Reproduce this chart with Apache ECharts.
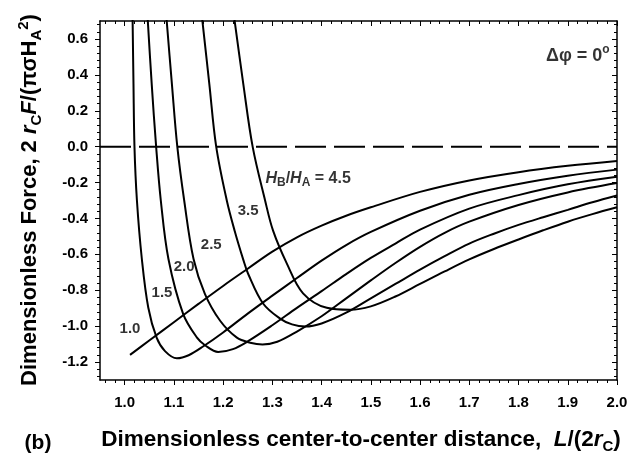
<!DOCTYPE html>
<html>
<head>
<meta charset="utf-8">
<script src="https://cdn.jsdelivr.net/npm/echarts@6/dist/echarts.min.js"></script>
<style>
  html, body { margin: 0; padding: 0; background: #fff; }
  #chart { width: 631px; height: 456px; }
</style>
</head>
<body>
<div id="chart"></div>
<script>
// axis ticks
const xTicks = [1.0, 1.1, 1.2, 1.3, 1.4, 1.5, 1.6, 1.7, 1.8, 1.9, 2.0];
const yTicks = [-1.2, -1.0, -0.8, -0.6, -0.4, -0.2, 0.0, 0.2, 0.4, 0.6];

// curves, H_B/H_A = 1.0 ... 4.5  ([L/(2rc), force])
const hb10 = [[1.011, -1.160], [1.05, -1.080], [1.10, -0.978], [1.15, -0.876], [1.20, -0.776], [1.25, -0.680],
  [1.30, -0.585], [1.35, -0.505], [1.40, -0.440], [1.45, -0.385], [1.50, -0.338], [1.60, -0.252],
  [1.70, -0.188], [1.80, -0.142], [1.90, -0.107], [2.00, -0.080]];
const hb15 = [[1.016, 0.75], [1.018, 0.35], [1.020, 0.0], [1.025, -0.300], [1.035, -0.626], [1.048, -0.896],
  [1.065, -1.064], [1.082, -1.139], [1.106, -1.179], [1.13, -1.162], [1.16, -1.112], [1.20, -1.035],
  [1.25, -0.930], [1.30, -0.830], [1.35, -0.732], [1.40, -0.635], [1.45, -0.548], [1.50, -0.475],
  [1.60, -0.357], [1.70, -0.268], [1.80, -0.208], [1.90, -0.162], [2.00, -0.128]];
const hb20 = [[1.046, 0.75], [1.055, 0.35], [1.064, 0.0], [1.0735, -0.300], [1.089, -0.626], [1.119, -0.933],
  [1.147, -1.064], [1.164, -1.108], [1.19, -1.144], [1.22, -1.128], [1.25, -1.085], [1.30, -0.995],
  [1.35, -0.898], [1.40, -0.805], [1.45, -0.710], [1.50, -0.620], [1.55, -0.540], [1.60, -0.462],
  [1.70, -0.345], [1.80, -0.270], [1.90, -0.210], [2.00, -0.168]];
const hb25 = [[1.084, 0.75], [1.096, 0.35], [1.107, 0.0], [1.121, -0.300], [1.140, -0.626], [1.163, -0.820],
  [1.194, -0.970], [1.228, -1.064], [1.255, -1.092], [1.28, -1.102], [1.31, -1.087], [1.35, -1.030],
  [1.40, -0.945], [1.45, -0.845], [1.50, -0.745], [1.55, -0.648], [1.60, -0.558], [1.65, -0.480],
  [1.70, -0.418], [1.80, -0.325], [1.90, -0.255], [2.00, -0.203]];
const hb35 = [[1.156, 0.75], [1.172, 0.35], [1.186, 0.0], [1.2075, -0.300], [1.2234, -0.468], [1.2416, -0.635],
  [1.2508, -0.708], [1.2812, -0.874], [1.3157, -0.958], [1.340, -0.990], [1.367, -1.002], [1.40, -0.985],
  [1.45, -0.925], [1.50, -0.845], [1.55, -0.765], [1.60, -0.685], [1.65, -0.610], [1.70, -0.540],
  [1.75, -0.485], [1.80, -0.436], [1.85, -0.393], [1.90, -0.352], [1.95, -0.310], [2.00, -0.272]];
const hb45 = [[1.221, 0.75], [1.241, 0.35], [1.260, 0.0], [1.2853, -0.300], [1.3015, -0.468], [1.3293, -0.650],
  [1.3624, -0.817], [1.4106, -0.898], [1.458, -0.909], [1.50, -0.890], [1.55, -0.835], [1.60, -0.765],
  [1.65, -0.695], [1.70, -0.628], [1.75, -0.570], [1.80, -0.517], [1.85, -0.466], [1.90, -0.418],
  [1.95, -0.376], [2.00, -0.338]];
const zeroLine = [[0.95, 0], [2.0, 0]];

// curve labels
const curveLabelText = ['1.0', '1.5', '2.0', '2.5', '3.5'];
const curveLabelX = [1.011, 1.076, 1.121, 1.176, 1.251];
const curveLabelY = [-1.015, -0.814, -0.669, -0.546, -0.359];

const FONT = 'Liberation Sans, Arial, sans-serif';
const chart = echarts.init(document.getElementById('chart'));

// minor ticks between the major ones
const xMinor = [];
for (let i = 48; i <= 99; i++) { if (i % 5 !== 0) xMinor.push(i / 50); }
const yMinor = [];
for (let i = -32; i <= 17; i++) { if (i % 5 !== 0) yMinor.push(i / 25); }

const fmt = (v) => (Math.abs(v) < 1e-9 ? 0 : v).toFixed(1);

function xAx(pos, ticks, len, inside, main) {
  return {
    type: 'value', min: 0.95, max: 2.0, position: pos,
    axisLine: { show: main, onZero: false, lineStyle: { color: '#000', width: 1.5 } },
    axisTick: { show: true, customValues: ticks, length: len, inside: inside, lineStyle: { color: '#000', width: 1 } },
    axisLabel: main && pos === 'bottom' ? {
      show: true, customValues: xTicks, formatter: fmt, margin: 15,
      color: '#000', fontSize: 15, fontWeight: 'bold', fontFamily: FONT
    } : { show: false },
    splitLine: { show: false }
  };
}
function yAx(pos, ticks, len, inside, main) {
  return {
    type: 'value', min: -1.3, max: 0.7, position: pos,
    axisLine: { show: main, onZero: false, lineStyle: { color: '#000', width: 1.5 } },
    axisTick: { show: true, customValues: ticks, length: len, inside: inside, lineStyle: { color: '#000', width: 1 } },
    axisLabel: main && pos === 'left' ? {
      show: true, customValues: yTicks, formatter: fmt, margin: 12,
      color: '#000', fontSize: 15, fontWeight: 'bold', fontFamily: FONT
    } : { show: false },
    splitLine: { show: false }
  };
}

function curve(name, data) {
  return {
    name: name, type: 'line', data: data, smooth: 0.35, showSymbol: false, clip: true,
    lineStyle: { color: '#000', width: 2 }, silent: true
  };
}

const labelData = curveLabelText.map((t, i) => ({ value: [curveLabelX[i], curveLabelY[i]], name: t }));

const option = {
  animation: false,
  backgroundColor: '#fff',
  grid: { left: 100, right: 14, top: 21, bottom: 76 },
  xAxis: [
    xAx('bottom', xTicks, 5, false, true),
    xAx('top', xTicks, 5, true, true),
    xAx('bottom', xMinor, 3, false, false),
    xAx('top', xMinor, 3, true, false)
  ],
  yAxis: [
    yAx('left', yTicks, 5, false, true),
    yAx('right', yTicks, 5, true, true),
    yAx('left', yMinor, 3, false, false),
    yAx('right', yMinor, 3, true, false)
  ],
  series: [
    {
      name: 'zero', type: 'line', data: zeroLine, showSymbol: false, silent: true,
      lineStyle: { color: '#000', width: 2, type: [31, 8], dashOffset: 0 }
    },
    curve('1.0', hb10), curve('1.5', hb15), curve('2.0', hb20),
    curve('2.5', hb25), curve('3.5', hb35), curve('4.5', hb45),
    {
      type: 'scatter', data: labelData, symbolSize: 1, itemStyle: { color: 'rgba(0,0,0,0)' }, silent: true,
      label: {
        show: true, position: 'inside', formatter: (p) => p.name,
        color: '#000', fontSize: 15, fontWeight: 'bold', fontFamily: FONT
      }
    },
    {
      type: 'scatter', data: [{ value: [1.285, -0.177] }], symbolSize: 1,
      itemStyle: { color: 'rgba(0,0,0,0)' }, silent: true,
      label: {
        show: true, position: 'right', distance: 0,
        formatter: '{i|H}{s|B}{n|/}{i|H}{s|A}{n| = 4.5}',
        rich: {
          i: { fontSize: 16, fontWeight: 'bold', fontStyle: 'italic', fontFamily: FONT, color: '#000', lineHeight: 21 },
          n: { fontSize: 16, fontWeight: 'bold', fontFamily: FONT, color: '#000', lineHeight: 21 },
          s: { fontSize: 12, fontWeight: 'bold', fontFamily: FONT, color: '#000', verticalAlign: 'bottom', lineHeight: 12 }
        }
      }
    },
    {
      type: 'scatter', data: [{ value: [1.986, 0.504] }], symbolSize: 1,
      itemStyle: { color: 'rgba(0,0,0,0)' }, silent: true,
      label: {
        show: true, position: 'left', distance: 0,
        formatter: '{n|Δφ = 0}{p|o}',
        rich: {
          n: { fontSize: 18, fontWeight: 'bold', fontFamily: FONT, color: '#000', lineHeight: 24 },
          p: { fontSize: 12, fontWeight: 'bold', fontFamily: FONT, color: '#000', verticalAlign: 'top', lineHeight: 12 }
        }
      }
    }
  ],
  graphic: [
    {
      type: 'text', x: 30, y: 200, rotation: Math.PI / 2,
      style: {
        text: '{b|Dimensionless Force, 2 }{i|r}{s|C}{i|F}{b|/(πσH}{s|A}{p|2}{b|)}',
        align: 'center', verticalAlign: 'middle',
        rich: {
          b: { fontSize: 22, fontWeight: 'bold', fontFamily: FONT, fill: '#000', lineHeight: 28 },
          i: { fontSize: 22, fontWeight: 'bold', fontStyle: 'italic', fontFamily: FONT, fill: '#000', lineHeight: 28 },
          s: { fontSize: 15, fontWeight: 'bold', fontFamily: FONT, fill: '#000', verticalAlign: 'bottom', lineHeight: 15 },
          p: { fontSize: 15, fontWeight: 'bold', fontFamily: FONT, fill: '#000', verticalAlign: 'top', lineHeight: 15 }
        }
      }
    },
    {
      type: 'text', x: 361, y: 440,
      style: {
        text: '{b|Dimensionless center-to-center distance,  }{i|L}{b|/(2}{i|r}{s|C}{b|)}',
        align: 'center', verticalAlign: 'middle',
        rich: {
          b: { fontSize: 22.5, fontWeight: 'bold', fontFamily: FONT, fill: '#000', lineHeight: 28 },
          i: { fontSize: 22.5, fontWeight: 'bold', fontStyle: 'italic', fontFamily: FONT, fill: '#000', lineHeight: 28 },
          s: { fontSize: 15, fontWeight: 'bold', fontFamily: FONT, fill: '#000', verticalAlign: 'bottom', lineHeight: 15 }
        }
      }
    },
    {
      type: 'text', x: 38, y: 443,
      style: {
        text: '(b)', align: 'center', verticalAlign: 'middle',
        font: 'bold 21px ' + FONT, fill: '#000'
      }
    }
  ]
};

chart.setOption(option);
</script>
</body>
</html>
